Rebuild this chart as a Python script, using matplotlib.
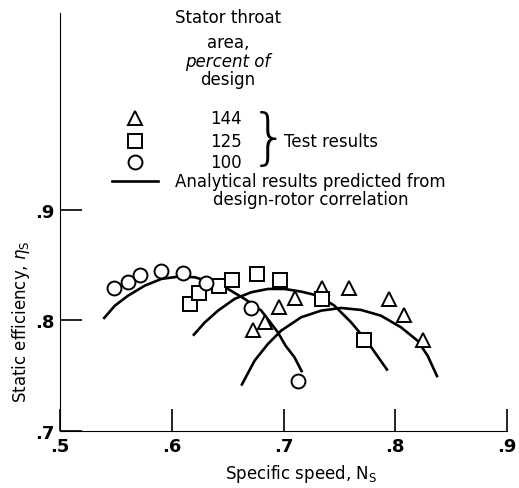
import matplotlib
matplotlib.use("Agg")
import matplotlib.pyplot as plt

plt.rcParams["font.family"] = ["DejaVu Sans"]

# test results: (specific speed, static efficiency)
ns_144 = [0.673, 0.683, 0.696, 0.710, 0.734, 0.759, 0.794, 0.808, 0.825]
eta_144 = [0.791, 0.799, 0.812, 0.820, 0.829, 0.829, 0.819, 0.805, 0.782]
ns_125 = [0.616, 0.624, 0.642, 0.654, 0.676, 0.697, 0.734, 0.772]
eta_125 = [0.815, 0.825, 0.831, 0.837, 0.842, 0.837, 0.819, 0.782]
ns_100 = [0.548, 0.561, 0.572, 0.590, 0.610, 0.631, 0.671, 0.713]
eta_100 = [0.829, 0.835, 0.841, 0.845, 0.843, 0.834, 0.811, 0.745]

# analytical curves
curve_100_x = [0.5388, 0.5491, 0.5610, 0.5759, 0.5908, 0.6056, 0.6205, 0.6354, 0.6503,
               0.6652, 0.6801, 0.6949, 0.7018, 0.7098, 0.7167]
curve_100_y = [0.8014, 0.8134, 0.8225, 0.8315, 0.8376, 0.8396, 0.8391, 0.8346, 0.8285,
               0.8195, 0.8089, 0.7893, 0.7772, 0.7667, 0.7531]
curve_125_x = [0.6190, 0.6295, 0.6414, 0.6562, 0.6711, 0.6860, 0.7009, 0.7158, 0.7306,
               0.7455, 0.7604, 0.7753, 0.7932]
curve_125_y = [0.7862, 0.7982, 0.8089, 0.8195, 0.8255, 0.8285, 0.8285, 0.8261, 0.8225,
               0.8134, 0.7984, 0.7803, 0.7546]
curve_144_x = [0.6622, 0.6741, 0.6860, 0.6979, 0.7158, 0.7337, 0.7515, 0.7694, 0.7872,
               0.8051, 0.8199, 0.8290, 0.8378]
curve_144_y = [0.7410, 0.7636, 0.7787, 0.7908, 0.8029, 0.8089, 0.8113, 0.8095, 0.8043,
               0.7938, 0.7817, 0.7680, 0.7486]

xticks = [0.5, 0.6, 0.7, 0.8, 0.9]
xtick_labels = [".5", ".6", ".7", ".8", ".9"]
yticks = [0.7, 0.8, 0.9]
ytick_labels = [".7", ".8", ".9"]
legend_values = ["144", "125", "100"]

fig = plt.figure(figsize=(5.19, 4.89), dpi=100)
ax = fig.add_axes([0.1156, 0.1166, 0.8614, 0.8544])

for cx, cy in [(curve_100_x, curve_100_y), (curve_125_x, curve_125_y), (curve_144_x, curve_144_y)]:
    ax.plot(cx, cy, color="black", lw=1.9, solid_capstyle="butt", solid_joinstyle="round")

mk = dict(ls="none", mfc="white", mec="black", mew=1.4, ms=10, zorder=3)
ax.plot(ns_144, eta_144, marker="^", **mk)
ax.plot(ns_125, eta_125, marker="s", **mk)
ax.plot(ns_100, eta_100, marker="o", **mk)

ax.set_xlim(0.5, 0.9)
ax.set_ylim(0.7, 1.078)
ax.spines["top"].set_visible(False)
ax.spines["right"].set_visible(False)
ax.set_xticks(xticks)
ax.set_xticklabels(xtick_labels, fontsize=13, fontweight="bold")
ax.set_yticks(yticks)
ax.set_yticklabels(ytick_labels, fontsize=13, fontweight="bold")
ax.tick_params(direction="in", length=16, width=1.2, pad=4)

ax.set_xlabel("Specific speed, N$_\\mathregular{S}$", fontsize=12)
ax.xaxis.set_label_coords(0.54, -0.075)
ax.set_ylabel("Static efficiency, $\\eta_\\mathregular{S}$", fontsize=12)
ax.yaxis.set_label_coords(-0.062, 0.263)

# legend block drawn as text
tr = ax.transAxes
ax.text(0.376, 0.990, "Stator throat", ha="center", va="center", fontsize=12, transform=tr)
ax.text(0.376, 0.931, "area,", ha="center", va="center", fontsize=12, transform=tr)
ax.text(0.376, 0.885, "percent of", ha="center", va="center", fontsize=12,
        style="italic", transform=tr)
ax.text(0.376, 0.842, "design", ha="center", va="center", fontsize=12, transform=tr)

leg_markers = ["^", "s", "o"]
leg_y = [0.748, 0.695, 0.643]
for m, v, yy in zip(leg_markers, legend_values, leg_y):
    ax.plot([0.167], [yy], marker=m, transform=tr, clip_on=False, **mk)
    ax.text(0.372, yy, v, ha="center", va="center", fontsize=12, transform=tr)
ax.text(0.468, 0.697, "}", ha="center", va="center", fontsize=44, fontweight="ultralight",
        transform=tr)
ax.text(0.50, 0.695, "Test results", ha="left", va="center", fontsize=12, transform=tr)
ax.plot([0.117, 0.22], [0.598, 0.598], color="black", lw=1.9, transform=tr, clip_on=False)
ax.text(0.56, 0.598, "Analytical results predicted from", ha="center", va="center",
        fontsize=12, transform=tr)
ax.text(0.56, 0.555, "design-rotor correlation", ha="center", va="center",
        fontsize=12, transform=tr)

fig.savefig("out.png", dpi=100)
